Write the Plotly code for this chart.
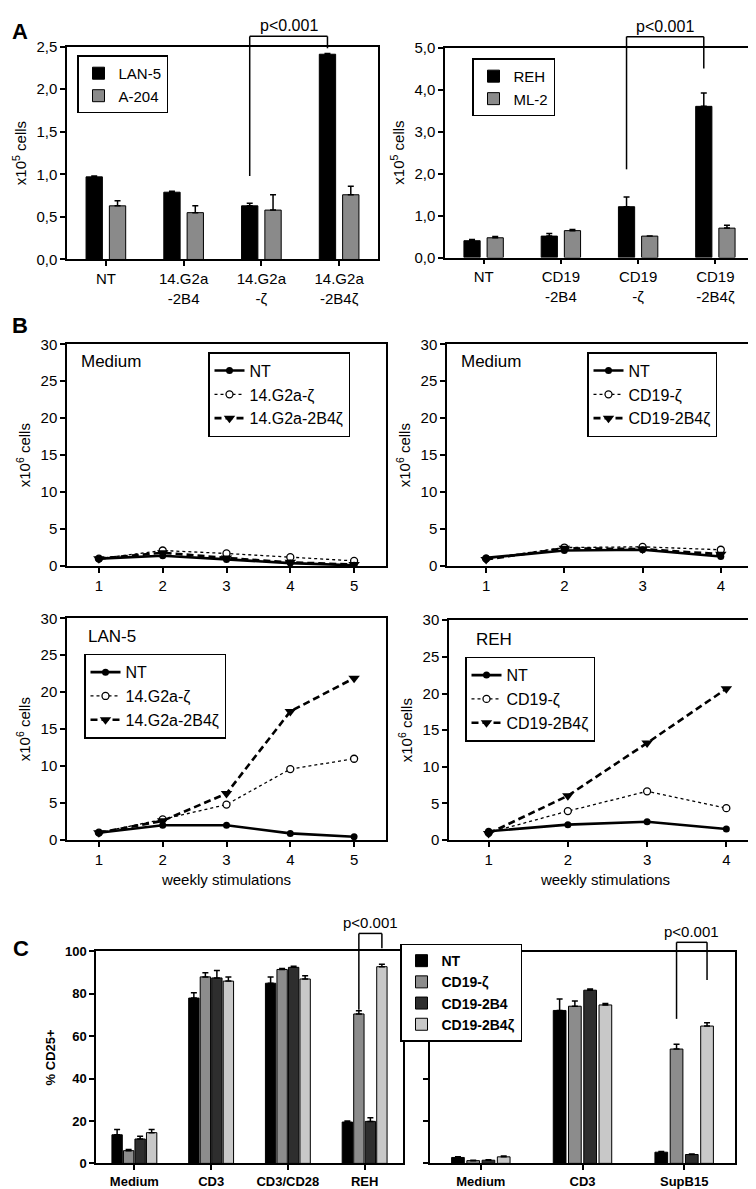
import plotly.graph_objects as go

W, H = 756, 1189
FONT = "Liberation Sans, Arial, sans-serif"

# ---------------- Panel A data ----------------
a_left_cats = ["NT", "14.G2a<br>-2B4", "14.G2a<br>-ζ", "14.G2a<br>-2B4ζ"]
a_lan5 = [0.97, 0.79, 0.63, 2.41]
a_lan5_err = [0.01, 0.01, 0.03, 0.01]
a_a204 = [0.63, 0.55, 0.58, 0.76]
a_a204_err = [0.06, 0.08, 0.18, 0.10]

a_right_cats = ["NT", "CD19<br>-2B4", "CD19<br>-ζ", "CD19<br>-2B4ζ"]
a_reh = [0.40, 0.51, 1.21, 3.60]
a_reh_err = [0.03, 0.06, 0.23, 0.32]
a_ml2 = [0.47, 0.64, 0.51, 0.70]
a_ml2_err = [0.03, 0.03, 0.0, 0.07]

# ---------------- Panel B data ----------------
b_weeks5 = [1, 2, 3, 4, 5]
b_weeks4 = [1, 2, 3, 4]
b_med14_nt = [1.0, 1.4, 0.9, 0.4, 0.1]
b_med14_z = [1.0, 2.1, 1.7, 1.2, 0.7]
b_med14_2b4z = [1.0, 1.8, 1.1, 0.5, 0.2]
b_med19_nt = [1.1, 2.1, 2.2, 1.3]
b_med19_z = [1.0, 2.5, 2.6, 2.2]
b_med19_2b4z = [0.9, 2.4, 2.3, 1.6]
b_lan5_nt = [1.0, 2.0, 2.0, 0.9, 0.45]
b_lan5_z = [1.0, 2.8, 4.8, 9.6, 11.0]
b_lan5_2b4z = [1.0, 2.6, 6.3, 17.4, 21.9]
b_reh_nt = [1.2, 2.1, 2.5, 1.5]
b_reh_z = [1.0, 3.95, 6.65, 4.35]
b_reh_2b4z = [0.9, 6.05, 13.25, 20.65]
b_names14 = ["NT", "14.G2a-ζ", "14.G2a-2B4ζ"]
b_names19 = ["NT", "CD19-ζ", "CD19-2B4ζ"]

# ---------------- Panel C data ----------------
c_series = ["NT", "CD19-ζ", "CD19-2B4", "CD19-2B4ζ"]
c_left_cats = ["Medium", "CD3", "CD3/CD28", "REH"]
c_left_nt = [13.5, 78.0, 85.0, 19.5]
c_left_nt_err = [2.5, 2.5, 3.0, 0.5]
c_left_z = [6.0, 88.0, 91.5, 70.5]
c_left_z_err = [0.5, 2.0, 0.5, 1.5]
c_left_2b4 = [11.5, 87.5, 92.5, 19.8]
c_left_2b4_err = [1.3, 3.5, 0.5, 1.7]
c_left_2b4z = [14.5, 86.0, 87.0, 92.8]
c_left_2b4z_err = [1.5, 2.0, 1.5, 1.2]

c_right_cats = ["Medium", "CD3", "SupB15"]
c_right_nt = [2.8, 72.5, 5.3]
c_right_nt_err = [0.3, 5.4, 0.3]
c_right_z = [1.3, 74.5, 54.2]
c_right_z_err = [0.2, 2.5, 2.3]
c_right_2b4 = [1.5, 82.1, 4.2]
c_right_2b4_err = [0.2, 0.6, 0.2]
c_right_2b4z = [3.1, 75.1, 65.1]
c_right_2b4z_err = [0.4, 0.7, 1.6]

# ---------------- helpers ----------------
def px_x(p):
    return p / W


def px_y(p):
    return 1 - p / H


BARGAP = 0.4
fig = go.Figure()


def add_bar(name, cats, vals, errs, color, xa, ya, legend, width):
    fig.add_trace(go.Bar(
        name=name, x=cats, y=vals, xaxis=xa, yaxis=ya, legend=legend,
        width=width,
        marker=dict(color=color, line=dict(color="black", width=1)),
        error_y=dict(type="data", symmetric=False, array=errs,
                     arrayminus=[0 for _ in errs], color="black",
                     thickness=1.5, width=3),
    ))


def add_lines(x, nt, z, z2, names, xa, ya, legend):
    fig.add_trace(go.Scatter(
        x=x, y=z, name=names[1], mode="lines+markers", xaxis=xa, yaxis=ya,
        legend=legend, legendrank=2,
        line=dict(color="black", width=1.3, dash="dot"),
        marker=dict(symbol="circle", size=7, color="white",
                    line=dict(color="black", width=1.3))))
    fig.add_trace(go.Scatter(
        x=x, y=z2, name=names[2], mode="lines+markers", xaxis=xa, yaxis=ya,
        legend=legend, legendrank=3,
        line=dict(color="black", width=2.6, dash="7px,4px"),
        marker=dict(symbol="triangle-down", size=10, color="black")))
    fig.add_trace(go.Scatter(
        x=x, y=nt, name=names[0], mode="lines+markers", xaxis=xa, yaxis=ya,
        legend=legend, legendrank=1,
        line=dict(color="black", width=2.6),
        marker=dict(symbol="circle", size=7, color="black")))


# Panel A
add_bar("LAN-5", a_left_cats, a_lan5, a_lan5_err, "black", "x", "y", "legend", 0.21)
add_bar("A-204", a_left_cats, a_a204, a_a204_err, "#8a8a8a", "x", "y", "legend", 0.21)
add_bar("REH", a_right_cats, a_reh, a_reh_err, "black", "x2", "y2", "legend2", 0.21)
add_bar("ML-2", a_right_cats, a_ml2, a_ml2_err, "#8a8a8a", "x2", "y2", "legend2", 0.21)

# Panel B
add_lines(b_weeks5, b_med14_nt, b_med14_z, b_med14_2b4z, b_names14, "x3", "y3", "legend3")
add_lines(b_weeks4, b_med19_nt, b_med19_z, b_med19_2b4z, b_names19, "x4", "y4", "legend4")
add_lines(b_weeks5, b_lan5_nt, b_lan5_z, b_lan5_2b4z, b_names14, "x5", "y5", "legend5")
add_lines(b_weeks4, b_reh_nt, b_reh_z, b_reh_2b4z, b_names19, "x6", "y6", "legend6")

# Panel C
c_colors = ["black", "#8c8c8c", "#2e2e2e", "#c8c8c8"]
c_left_vals = [c_left_nt, c_left_z, c_left_2b4, c_left_2b4z]
c_left_errs = [c_left_nt_err, c_left_z_err, c_left_2b4_err, c_left_2b4z_err]
c_right_vals = [c_right_nt, c_right_z, c_right_2b4, c_right_2b4z]
c_right_errs = [c_right_nt_err, c_right_z_err, c_right_2b4_err, c_right_2b4z_err]
for i, nm in enumerate(c_series):
    add_bar(nm, c_left_cats, c_left_vals[i], c_left_errs[i], c_colors[i], "x7", "y7", "legend7", 0.135)
for i, nm in enumerate(c_series):
    add_bar(nm, c_right_cats, c_right_vals[i], c_right_errs[i], c_colors[i], "x8", "y8", "legend7", 0.125)
    fig.data[-1].showlegend = False

# ---------------- axes ----------------
def axis(domain, size=15, bold=False, **kw):
    d = dict(domain=domain, showline=True, linecolor="black", linewidth=1.5,
             mirror=True, ticks="outside", ticklen=5, tickwidth=1.5,
             tickcolor="black", showgrid=False, zeroline=False,
             tickfont=dict(family=FONT, size=size, color="black",
                           weight="bold" if bold else "normal"))
    d.update(kw)
    return d


def ytitle(text, size=15, bold=False):
    return dict(text=text, font=dict(family=FONT, size=size, color="black",
                                     weight="bold" if bold else "normal"),
                standoff=6)


boxes = {
    1: (59, 370, 30, 246),
    2: (437, 746, 31, 244),
    3: (59, 378, 332, 557),
    4: (439, 748, 332, 557),
    5: (59, 378, 610, 835),
    6: (441, 754, 612, 835),
    7: (88, 395, 948, 1163),
    8: (422, 727, 949, 1163),
}


def dom(k):
    x0, x1, y0, y1 = boxes[k]
    return [px_x(x0), px_x(x1)], [px_y(y1), px_y(y0)]


lay = {}
yt5 = "x10<sup>5</sup> cells"
yt6 = "x10<sup>6</sup> cells"
a_yr1 = [0, 2.5]
a_yr2 = [0, 5.0]
for k, (yr, dt) in {1: (a_yr1, 0.5), 2: (a_yr2, 1.0)}.items():
    xd, yd = dom(k)
    s = "" if k == 1 else str(k)
    lay["xaxis" + s] = axis(xd, anchor="y" + s, range=[-0.5, 3.5])
    lay["yaxis" + s] = axis(yd, anchor="x" + s, range=yr, dtick=dt,
                            tickformat=".1f", title=ytitle(yt5))
for k in (3, 4, 5, 6):
    xd, yd = dom(k)
    s = str(k)
    xr = [0.5, 5.5] if k in (3, 5) else [0.5, 4.45]
    extra = {}
    if k in (5, 6):
        extra["title"] = dict(text="weekly stimulations",
                              font=dict(family=FONT, size=15, color="black"),
                              standoff=8)
    lay["xaxis" + s] = axis(xd, anchor="y" + s, range=xr, dtick=1, **extra)
    lay["yaxis" + s] = axis(yd, anchor="x" + s, range=[0, 30], dtick=5,
                            title=ytitle(yt6))
c_yr = [0, 100]
xd, yd = dom(7)
lay["xaxis7"] = axis(xd, size=13, bold=True, anchor="y7", range=[-0.5, 3.5])
lay["yaxis7"] = axis(yd, size=13, bold=True, anchor="x7", range=c_yr, dtick=20,
                     title=ytitle("% CD25+", size=13, bold=True))
xd, yd = dom(8)
lay["xaxis8"] = axis(xd, size=13, bold=True, anchor="y8", range=[-0.5, 2.5])
lay["yaxis8"] = axis(yd, size=13, bold=True, anchor="x8", range=c_yr, dtick=20,
                     showticklabels=False)

# ---------------- legends ----------------
def legend(xp, yp, size, bold=False):
    return dict(x=px_x(xp), y=px_y(yp), xanchor="left", yanchor="top",
                bordercolor="black", borderwidth=1.5, bgcolor="white",
                font=dict(family=FONT, size=size, color="black",
                          weight="bold" if bold else "normal"),
                tracegroupgap=0, itemwidth=30)


lay["legend"] = legend(69, 39, 15)
lay["legend2"] = legend(464, 42, 15)
lay["legend3"] = legend(200, 340, 16)
lay["legend4"] = legend(579, 340, 16)
lay["legend5"] = legend(76, 646, 16)
lay["legend6"] = legend(457, 649, 16)
lay["legend7"] = legend(392, 940, 14, bold=True)

# ---------------- brackets & annotations ----------------
shapes = []
annotations = []


def bracket(k, xr, yr, x0, x1, ys, ytop, ye, label, size):
    s = "" if k == 1 else str(k)
    fx = lambda v: (v - xr[0]) / (xr[1] - xr[0])
    fy = lambda v: (v - yr[0]) / (yr[1] - yr[0])
    ln = dict(color="black", width=1.5)
    common = dict(type="line", xref="x" + s + " domain", yref="y" + s + " domain", line=ln)
    shapes.append(dict(x0=fx(x0), x1=fx(x0), y0=fy(ys), y1=fy(ytop), **common))
    shapes.append(dict(x0=fx(x0), x1=fx(x1), y0=fy(ytop), y1=fy(ytop), **common))
    shapes.append(dict(x0=fx(x1), x1=fx(x1), y0=fy(ytop), y1=fy(ye), **common))
    annotations.append(dict(text=label, xref="x" + s + " domain", yref="y" + s + " domain",
                            x=(fx(x0) + fx(x1)) / 2, y=fy(ytop), yanchor="bottom",
                            xanchor="center", showarrow=False, yshift=0,
                            font=dict(family=FONT, size=size, color="black")))


slot2 = (1 - BARGAP) / 2
slot4 = (1 - BARGAP) / 4
bracket(1, [-0.5, 3.5], a_yr1, 2 - slot2 / 2, 3 - slot2 / 2, 0.98, 2.62, 2.48, "p<0.001", 16)
bracket(2, [-0.5, 3.5], a_yr2, 2 - slot2 / 2, 3 - slot2 / 2, 2.1, 5.26, 4.5, "p<0.001", 16)
bracket(7, [-0.5, 3.5], c_yr, 3 - slot4 / 2, 3 + 1.5 * slot4, 72.5, 108.5, 101.5, "p<0.001", 15)
bracket(8, [-0.5, 2.5], c_yr, 2 - slot4 / 2, 2 + 1.5 * slot4, 68.5, 104.8, 86.9, "p<0.001", 15)


def label(text, xp, yp, size, bold=False):
    annotations.append(dict(text=text, xref="paper", yref="paper", x=px_x(xp), y=px_y(yp),
                            xanchor="left", yanchor="top", showarrow=False,
                            font=dict(family=FONT, size=size, color="black",
                                      weight="bold" if bold else "normal")))


label("A", 2, 0, 22, True)
label("B", 2, 298, 22, True)
label("C", 3, 930, 22, True)
label("Medium", 71, 338, 17)
label("Medium", 451, 338, 17)
label("LAN-5", 78, 617, 17)
label("REH", 466, 620, 17)

fig.update_layout(
    width=W, height=H, autosize=False,
    margin=dict(l=0, r=0, t=0, b=0),
    paper_bgcolor="white", plot_bgcolor="white",
    barmode="group", bargap=BARGAP, bargroupgap=0,
    separators=",.",
    font=dict(family=FONT, color="black"),
    shapes=shapes, annotations=annotations,
    **lay,
)

fig.write_html("out.html")
